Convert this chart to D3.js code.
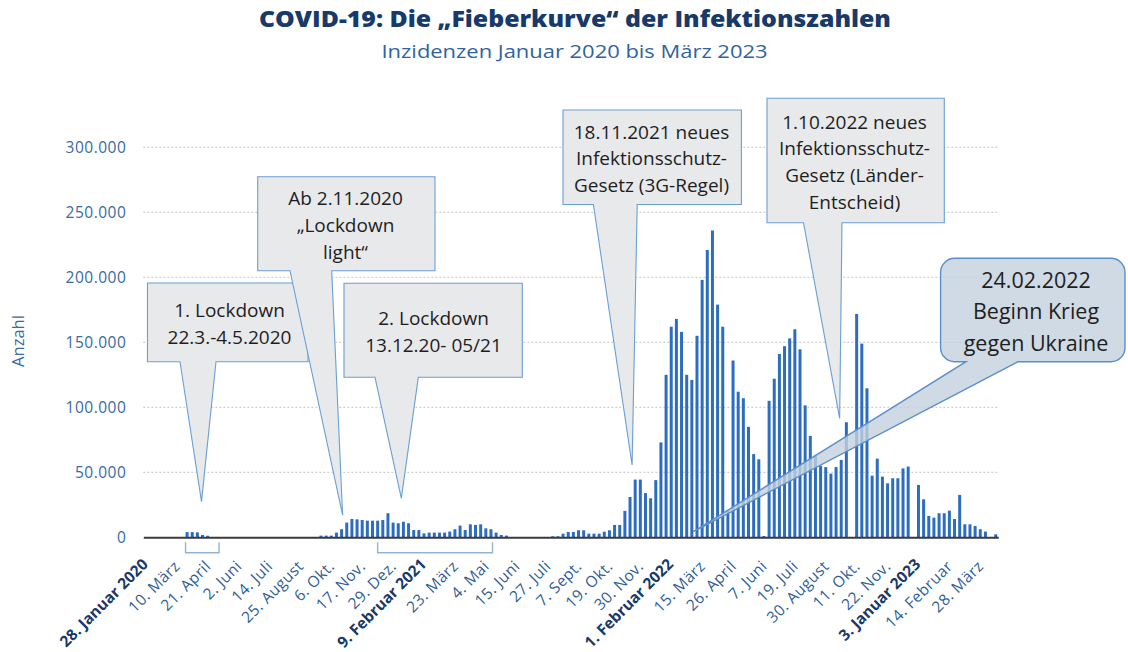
<!DOCTYPE html>
<html><head><meta charset="utf-8">
<script src="https://cdn.jsdelivr.net/npm/d3@7"></script>
<style>
html,body{margin:0;padding:0;background:#fff;}
svg{display:block;}
</style></head><body>
<svg id="chart" width="1128" height="652"></svg>
<script>
// ---------------- DATA ----------------
// weekly categories: index 0 = week of 28 Jan 2020 (index -1 = week before)
const weekCategories = d3.range(-1, 165);

// weekly values (index -1 .. 164)
const weeklyCases = [
  0,                                             // -1
  0,0,0,0,0,0,0,                                 // 0-6
  4000,4000,3800,1800,1200,                      // 7-11
  0,0,0,0,0,0,0,0,0,0,0,0,0,0,0,0,0,0,0,0,0,     // 12-32
  1300,1300,1300,3600,6200,11300,14100,13800,13300,12800, // 33-42
  12800,12800,13300,18500,11300,10800,12000,10800,5600,5600, // 43-52
  3000,3600,3600,3600,3600,4400,6200,9000,5600,10000,       // 53-62
  9500,10000,6900,6200,3600,1800,1300,                       // 63-69
  0,0,0,0,0,0,0,0,                               // 70-77
  800,800,2800,4100,4100,5400,5400,2800,2800,2800,           // 78-87
  4300,5400,9500,9500,20300,31000,44400,44400,34000,30000,   // 88-97
  44000,73000,125000,162000,168000,158000,125000,121000,155000,198000, // 98-107
  221000,236000,179000,162000,21000,136000,112000,107000,85000,64000,  // 108-117
  60000,1000,105000,122000,141000,147000,153000,160000,144600,101500,  // 118-127
  78000,63000,55000,54000,49000,54000,59500,88500,0,171800,            // 128-137
  149000,114600,47400,60500,46700,41500,45400,45400,53000,54400,       // 138-147
  0,40300,29200,16400,15100,18500,18500,20500,14100,32600,             // 148-157
  10000,10000,8700,6200,4400,0,2300                                    // 158-164
];

const tickLabels = [
  "28. Januar 2020","10. März","21. April","2. Juni","14. Juli","25. August","6. Okt.",
  "17. Nov.","29. Dez.","9. Februar 2021","23. März","4. Mai","15. Juni","27. Juli",
  "7. Sept.","19. Okt.","30. Nov.","1. Februar 2022","15. März","26. April","7. Juni",
  "19. Juli","30. August","11. Okt.","22. Nov.","3. Januar 2023","14. Februar","28. März"
];
const boldLabels = ["28. Januar 2020","9. Februar 2021","1. Februar 2022","3. Januar 2023"];
const tickEvery = 6;
const yTickValues = [0, 50000, 100000, 150000, 200000, 250000, 300000];

// lockdown periods as week-index ranges
const lockdownRanges = [[6.7, 13.2], [44.0, 66.3]];

// annotations: text lines and the data point the pointer marks [week index, value]
const annotationTexts = [
  ["1. Lockdown", "22.3.-4.5.2020"],
  ["2. Lockdown", "13.12.20- 05/21"],
  ["Ab 2.11.2020", "„Lockdown", "light“"],
  ["18.11.2021 neues", "Infektionsschutz-", "Gesetz (3G-Regel)"],
  ["1.10.2022 neues", "Infektionsschutz-", "Gesetz (Länder-", "Entscheid)"]
];
const annotationTargets = [[9.8, 27400], [48.6, 30000], [37.2, 17000], [93.4, 55600], [133.7, 91500]];
const warText = ["24.02.2022", "Beginn Krieg", "gegen Ukraine"];
const warTarget = [105.3, 4300];

// ---------------- LAYOUT ----------------
const calloutBoxes = [
  {x0:147.5, y0:283,   x1:308,   y1:361.7, b0:180,   b1:216,   cx:229.5, ly:[310, 336.7]},
  {x0:344,   y0:283.3, x1:522.3, y1:377.3, b0:375,   b1:418.3, cx:433.5, ly:[318.3, 345]},
  {x0:257.7, y0:176.7, x1:435,   y1:270.7, b0:290,   b1:331.7, cx:345.5, ly:[198.3, 225, 251.7]},
  {x0:563,   y0:110,   x1:741.4, y1:204.5, b0:593.4, b1:637.2, cx:651.5, ly:[131.7, 158.3, 185]},
  {x0:767,   y0:98.3,  x1:944.3, y1:222.7, b0:803.5, b1:842,   cx:854.5, ly:[121.7, 148.3, 175, 201.7]}
];
const warBox = {x0:940.6, y0:258.3, x1:1125, y1:361.7, r:14, b0:966, b1:1018, cx:1036, ly:[280, 311.7, 343.3]};

const svg = d3.select("#chart");
const plotLeft = 143.3, plotRight = 998.3, plotTop = 147.3, plotBottom = 537.3;

const x = d3.scaleBand().domain(weekCategories).range([plotLeft, plotRight])
  .paddingInner(0.42).paddingOuter(0.21);
const y = d3.scaleLinear().domain([0, 300000]).range([plotBottom, plotTop]);
const xc = i => x(0) + x.bandwidth() / 2 + i * x.step();

const de = d3.formatLocale({decimal: ",", thousands: ".", grouping: [3], currency: ["", " €"]});
const fmt = de.format(",");

const labelBlue = "#2f5f96";
const navy = "#173a6a";

// title
svg.append("text").attr("x", 575).attr("y", 27).attr("text-anchor", "middle")
  .attr("font-family", "'Open Sans', sans-serif").attr("font-weight", 800)
  .attr("font-size", 22.5).attr("fill", navy)
  .attr("textLength", 632).attr("lengthAdjust", "spacingAndGlyphs")
  .text("COVID-19: Die „Fieberkurve“ der Infektionszahlen");
svg.append("text").attr("x", 574.5).attr("y", 58.3).attr("text-anchor", "middle")
  .attr("font-family", "'Open Sans', sans-serif").attr("font-weight", 400)
  .attr("font-size", 18.5).attr("fill", "#2f63a0")
  .attr("textLength", 386).attr("lengthAdjust", "spacingAndGlyphs")
  .text("Inzidenzen Januar 2020 bis März 2023");

// gridlines
svg.append("g").selectAll("line").data(yTickValues.filter(v => v > 0)).join("line")
  .attr("x1", plotLeft).attr("x2", plotRight)
  .attr("y1", d => y(d)).attr("y2", d => y(d))
  .attr("stroke", "#c4c4c4").attr("stroke-width", 1).attr("stroke-dasharray", "2,2");

// y axis
const yAxis = svg.append("g").attr("transform", `translate(${plotLeft},0)`)
  .call(d3.axisLeft(y).tickValues(yTickValues).tickFormat(fmt).tickSize(0).tickPadding(17));
yAxis.select(".domain").remove();
yAxis.selectAll("text").attr("font-family", "'Open Sans', sans-serif")
  .attr("font-size", 15.5).attr("letter-spacing", 0.5).attr("fill", "#3a6a9e");

svg.append("text").attr("transform", "translate(24,341) rotate(-90)")
  .attr("text-anchor", "middle").attr("font-family", "'Open Sans', sans-serif")
  .attr("font-size", 16.5).attr("fill", "#3a6a9e").text("Anzahl");

// bars
svg.append("g").selectAll("rect").data(weekCategories.map((c, i) => ({c, v: weeklyCases[i]})))
  .join("rect")
  .attr("x", d => x(d.c)).attr("width", x.bandwidth())
  .attr("y", d => y(d.v)).attr("height", d => y(0) - y(d.v))
  .attr("fill", "#2c6dc0");

// x axis
const xAxis = svg.append("g").attr("transform", `translate(0,${plotBottom})`)
  .call(d3.axisBottom(x)
    .tickValues(weekCategories.filter(i => i >= 0 && i % tickEvery === 0))
    .tickFormat(i => tickLabels[i / tickEvery]).tickSize(0));
xAxis.select(".domain").attr("stroke", "#3a3a3a").attr("stroke-width", 2);
xAxis.selectAll("text")
  .attr("x", 0).attr("y", 0).attr("dy", 0)
  .attr("text-anchor", "end")
  .attr("font-family", "'Open Sans', sans-serif")
  .each(function(d) {
    const t = d3.select(this);
    if (boldLabels.includes(tickLabels[d / tickEvery])) {
      t.attr("font-weight", 700).attr("font-size", 15.5).attr("fill", navy)
       .attr("transform", "translate(-2,28) rotate(-45)");
    } else {
      t.attr("font-weight", 400).attr("font-size", 15.5).attr("fill", labelBlue).attr("letter-spacing", 0.4)
       .attr("transform", "translate(-1,30) rotate(-45)");
    }
  });

// lockdown brackets
svg.append("g").selectAll("path").data(lockdownRanges).join("path")
  .attr("d", d => `M${xc(d[0])},${plotBottom + 5}V${plotBottom + 15.4}H${xc(d[1])}V${plotBottom + 5}`)
  .attr("fill", "none").attr("stroke", "#93b3d3").attr("stroke-width", 1.4);

// callouts
const calloutG = svg.append("g");
annotationTexts.forEach((lines, k) => {
  const b = calloutBoxes[k];
  const tx = xc(annotationTargets[k][0]), ty = y(annotationTargets[k][1]);
  const p = `M${b.x0},${b.y0}H${b.x1}V${b.y1}H${b.b1}L${tx},${ty}L${b.b0},${b.y1}H${b.x0}Z`;
  calloutG.append("path").attr("d", p).attr("fill", "#e8e9eb")
    .attr("stroke", "#6a9fd3").attr("stroke-width", 1.1);
  calloutG.append("g").selectAll("text").data(lines).join("text")
    .attr("x", b.cx).attr("y", (d, i) => b.ly[i]).attr("dy", "0.36em")
    .attr("text-anchor", "middle").attr("font-family", "'Open Sans', sans-serif")
    .attr("font-size", 19).attr("fill", "#1e1e1e").text(d => d);
});

// war callout (rounded, semi transparent)
{
  const b = warBox, r = b.r;
  const tx = xc(warTarget[0]), ty = y(warTarget[1]);
  const p = `M${b.x0 + r},${b.y0}H${b.x1 - r}A${r},${r} 0 0 1 ${b.x1},${b.y0 + r}` +
            `V${b.y1 - r}A${r},${r} 0 0 1 ${b.x1 - r},${b.y1}H${b.b1}L${tx},${ty}L${b.b0},${b.y1}` +
            `H${b.x0 + r}A${r},${r} 0 0 1 ${b.x0},${b.y1 - r}V${b.y0 + r}A${r},${r} 0 0 1 ${b.x0 + r},${b.y0}Z`;
  calloutG.append("path").attr("d", p).attr("fill", "#c3d1df").attr("fill-opacity", 0.8)
    .attr("stroke", "#5b8fc8").attr("stroke-width", 1.4);
  calloutG.append("g").selectAll("text").data(warText).join("text")
    .attr("x", b.cx).attr("y", (d, i) => b.ly[i]).attr("dy", "0.36em")
    .attr("text-anchor", "middle").attr("font-family", "'Open Sans', sans-serif")
    .attr("font-size", 21.5).attr("fill", "#1e1e1e").text(d => d);
}
</script>
</body></html>
